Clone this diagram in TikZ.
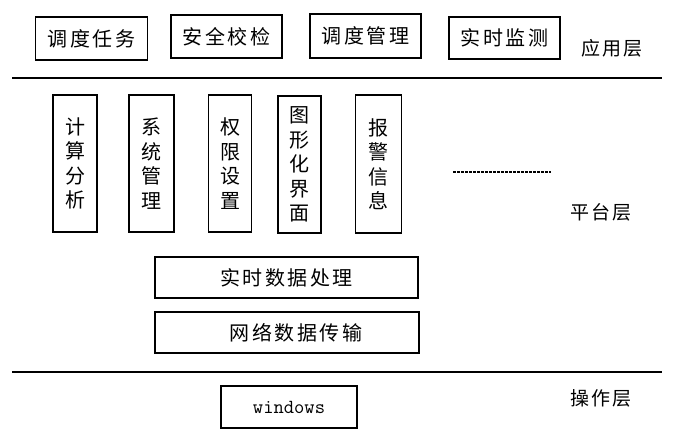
\documentclass[tikz,border=0pt]{standalone}
\usepackage{fontspec}
\newfontfamily\cjk{Noto Sans CJK SC}[LetterSpace=13]
\newfontfamily\cjkv{Noto Sans CJK SC}
\begin{document}
\begin{tikzpicture}[x=1pt,y=-1pt,
  box/.style={draw, line width=1.6pt, inner sep=0pt, font=\cjk\fontsize{20}{22}\selectfont},
  vbox/.style={box, align=center, font=\cjkv\fontsize{20}{24.5}\selectfont},
  layer/.style={font=\cjk\fontsize{19}{22}\selectfont, inner sep=0pt},
  sep/.style={line width=2pt}]
\useasboundingbox (0,0) rectangle (679,445);
% application layer
\node[box, minimum width=112pt, minimum height=43pt] (t1) at (91.5,38.5) {调度任务};
\node[box, minimum width=111pt, minimum height=43pt] (t2) at (226.5,36.5) {安全校检};
\node[box, minimum width=111pt, minimum height=44pt] (t3) at (365.5,36) {调度管理};
\node[box, minimum width=111pt, minimum height=42pt] (t4) at (504.5,38) {实时监测};
\node[layer] (l1) at (612,48) {应用层};
\coordinate (s1a) at (12,77.5);
\coordinate (s1b) at (662,77.5);
\draw[sep] (s1a) -- (s1b);
% platform layer
\node[vbox, minimum width=44pt, minimum height=137pt] (v1) at (75,163.5) {计\\算\\分\\析};
\node[vbox, minimum width=45pt, minimum height=137pt] (v2) at (151.5,163.5) {系\\统\\管\\理};
\node[vbox, minimum width=43pt, minimum height=137pt] (v3) at (230,163.5) {权\\限\\设\\置};
\node[vbox, minimum width=43pt, minimum height=137pt] (v4) at (299.5,164.5) {图\\形\\化\\界\\面};
\node[vbox, minimum width=46pt, minimum height=138pt] (v5) at (378.5,164) {报\\警\\信\\息};
\coordinate (d1) at (453,172);
\coordinate (d2) at (551,172);
\draw[line width=1.6pt, dash pattern=on 3pt off 1pt] (d1) -- (d2);
\node[layer] (l2) at (601,212) {平台层};
\node[box, minimum width=263pt, minimum height=41pt] (r1) at (286.5,277.5) {实时数据处理};
\node[box, minimum width=264pt, minimum height=41pt] (r2) at (287,332.5) {\hspace*{18pt}网络数据传输};
\coordinate (s2a) at (12,372);
\coordinate (s2b) at (662,372);
\draw[sep] (s2a) -- (s2b);
% operating layer
\node[box, minimum width=136pt, minimum height=42pt, font=\ttfamily\fontsize{20}{22}\selectfont] (w) at (289,407) {windows};
\node[layer] (l3) at (601,398) {操作层};
\end{tikzpicture}
\end{document}
